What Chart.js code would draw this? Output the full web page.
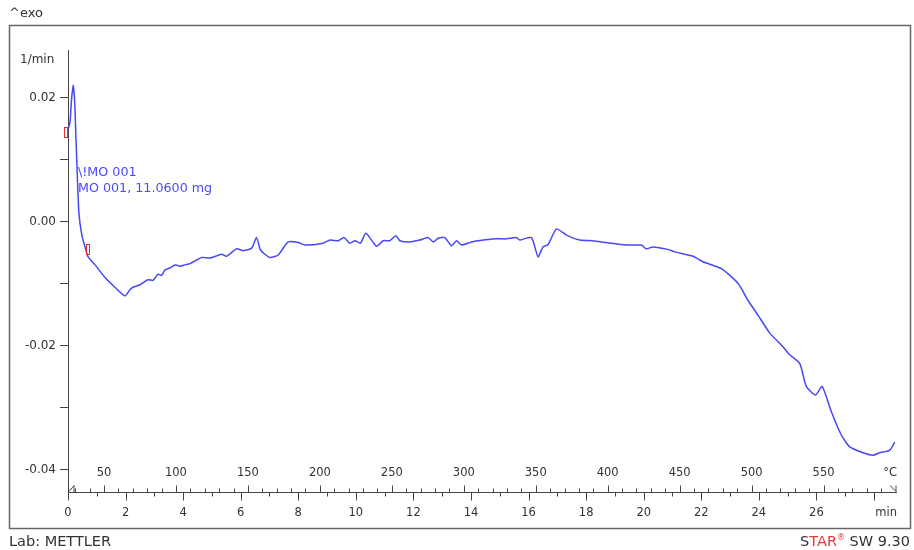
<!DOCTYPE html>
<html lang="en">
<head>
  <meta charset="UTF-8">
  <title>DSC curve MO 001</title>
  <script src="https://cdn.jsdelivr.net/npm/chart.js@4.4.0/dist/chart.umd.min.js"></script>
  <style>
    body { margin: 0; background: #fff; }
    canvas { display: block; }
  </style>
</head>
<body>
  <canvas id="myChart" width="914" height="550"></canvas>

  <script>
    // curve: time in min, signal in 1/min
    const timeMin = [0.00, 0.07, 0.12, 0.18, 0.23, 0.28, 0.33, 0.38, 0.47, 0.59, 0.70, 0.94, 1.28, 1.63, 1.98,
      2.15, 2.26, 2.50, 2.78, 2.95, 3.13, 3.25, 3.37, 3.54, 3.72, 3.90, 4.06, 4.24, 4.64, 4.93,
      5.34, 5.51, 5.86, 6.09, 6.38, 6.55, 6.69, 7.01, 7.30, 7.65, 8.00, 8.23, 8.86, 9.10, 9.39,
      9.59, 9.79, 9.97, 10.16, 10.35, 10.72, 10.95, 11.18, 11.39, 11.53, 11.88, 12.22, 12.51, 12.69, 12.86,
      13.09, 13.32, 13.50, 13.67, 14.02, 14.25, 14.88, 15.23, 15.58, 15.69, 16.10, 16.33, 16.50, 16.68, 16.97,
      17.32, 17.78, 18.24, 18.70, 19.40, 19.92, 20.09, 20.32, 20.84, 21.08, 21.71, 22.06, 22.70, 23.28, 23.62,
      23.97, 24.38, 24.84, 25.07, 25.42, 25.65, 25.97, 26.20, 26.52, 26.86, 27.15, 27.62, 27.97, 28.19, 28.54, 28.72]
    const rate = [0.0148, 0.0160, 0.0195, 0.0220, 0.0195, 0.0130, 0.0065, 0.0013, -0.0019, -0.0041, -0.0057, -0.0070, -0.0090, -0.0106, -0.0120,
      -0.0110, -0.0106, -0.0102, -0.0094, -0.0095, -0.0085, -0.0087, -0.0078, -0.0075, -0.0070, -0.0072, -0.0070, -0.0068, -0.0058, -0.0059,
      -0.0053, -0.0056, -0.0044, -0.0047, -0.0043, -0.0026, -0.0046, -0.0058, -0.0054, -0.0033, -0.0034, -0.0038, -0.0035, -0.0030, -0.0031,
      -0.0026, -0.0035, -0.0031, -0.0035, -0.0019, -0.0040, -0.0031, -0.0031, -0.0023, -0.0031, -0.0033, -0.0030, -0.0026, -0.0033, -0.0027,
      -0.0026, -0.0039, -0.0031, -0.0038, -0.0033, -0.0031, -0.0028, -0.0028, -0.0026, -0.0030, -0.0026, -0.0057, -0.0041, -0.0037, -0.0012,
      -0.0022, -0.0030, -0.0031, -0.0034, -0.0038, -0.0038, -0.0044, -0.0041, -0.0045, -0.0049, -0.0056, -0.0065, -0.0076, -0.0100, -0.0127,
      -0.0151, -0.0180, -0.0202, -0.0215, -0.0229, -0.0266, -0.0280, -0.0266, -0.0307, -0.0344, -0.0363, -0.0373, -0.0377, -0.0373, -0.0369, -0.0356]

    // y axis ticks (1/min)
    const yTicks = [-0.04, -0.03, -0.02, -0.01, 0, 0.01, 0.02]
    const yLabels = ['-0.04', '', '-0.02', '', '0.00', '', '0.02']

    // time axis (below the line)
    const minTicks = [0, 1, 2, 3, 4, 5, 6, 7, 8, 9, 10, 11, 12, 13, 14, 15, 16, 17, 18, 19, 20, 21, 22, 23, 24, 25, 26, 27, 28]
    const minLabels = [0, 2, 4, 6, 8, 10, 12, 14, 16, 18, 20, 22, 24, 26]

    // temperature axis (above the line), 25 °C start, 20 K/min
    const startTemp = 25
    const heatRate = 20
    const tempTicks = [30, 40, 50, 60, 70, 80, 90, 100, 110, 120, 130, 140, 150, 160, 170, 180, 190, 200,
      210, 220, 230, 240, 250, 260, 270, 280, 290, 300, 310, 320, 330, 340, 350, 360, 370, 380, 390, 400,
      410, 420, 430, 440, 450, 460, 470, 480, 490, 500, 510, 520, 530, 540, 550, 560, 570, 580, 590]
    const tempLabels = [50, 100, 150, 200, 250, 300, 350, 400, 450, 500, 550]

    // red evaluation limit marks
    const limitT = [-0.07, 0.705]
    const limitV = [0.0144, -0.0044]

    const FONT = '"DejaVu Sans", sans-serif'
    const TXT = '#333'
    const BLUE = '#4848f8'

    const points = timeMin.map((t, i) => ({ x: t, y: rate[i] }))

    const printout = {
      id: 'printout',
      afterDraw(chart) {
        const ctx = chart.ctx
        const sx = chart.scales.x
        const sy = chart.scales.y
        const area = chart.chartArea
        const y0 = Math.round(area.bottom) + 0.5
        ctx.save()

        // frame around the plot
        ctx.strokeStyle = '#666'
        ctx.lineWidth = 1.5
        ctx.strokeRect(9.5, 25.5, 901, 503)

        // time / temperature axis line
        ctx.strokeStyle = '#444'
        ctx.lineWidth = 1
        ctx.beginPath()
        ctx.moveTo(area.left, y0)
        ctx.lineTo(area.right, y0)

        minTicks.forEach(m => {
          const px = Math.round(sx.getPixelForValue(m)) + 0.5
          const len = m % 2 === 0 ? 8 : 4
          ctx.moveTo(px, y0)
          ctx.lineTo(px, y0 + len)
        })
        tempTicks.forEach(T => {
          const px = Math.round(sx.getPixelForValue((T - startTemp) / heatRate)) + 0.5
          const len = T % 50 === 0 ? 7 : 4
          ctx.moveTo(px, y0)
          ctx.lineTo(px, y0 - len)
        })
        // little start / end marks of the temperature axis
        ctx.moveTo(area.left + 1, y0 - 1)
        ctx.lineTo(area.left + 6, y0 - 7)
        ctx.lineTo(area.left + 6, y0)
        ctx.moveTo(area.right - 7, y0 - 7)
        ctx.lineTo(area.right - 1, y0 - 1)
        ctx.lineTo(area.right - 1, y0 - 7)
        ctx.stroke()

        ctx.fillStyle = TXT
        ctx.font = '11.5px ' + FONT
        ctx.textAlign = 'center'
        ctx.textBaseline = 'middle'
        minLabels.forEach(m => {
          ctx.fillText(String(m), sx.getPixelForValue(m), 513)
        })
        tempLabels.forEach(T => {
          ctx.fillText(String(T), sx.getPixelForValue((T - startTemp) / heatRate), 473)
        })
        ctx.textAlign = 'right'
        ctx.fillText('min', area.right, 513)
        ctx.fillText('°C', area.right, 473)

        // unit and exo direction
        ctx.textAlign = 'left'
        ctx.font = '12px ' + FONT
        ctx.fillText('1/min', 20, 60)
        ctx.font = '13px ' + FONT
        ctx.fillText('^exo', 9, 14)

        // sample annotation
        ctx.fillStyle = BLUE
        ctx.font = '12.7px ' + FONT
        ctx.fillText('\\!MO 001', 78, 173)
        ctx.fillText('MO 001, 11.0600 mg', 78, 189)

        // evaluation limits
        ctx.strokeStyle = '#e23030'
        ctx.lineWidth = 1
        limitT.forEach((t, i) => {
          const px = Math.round(sx.getPixelForValue(t))
          const py = Math.round(sy.getPixelForValue(limitV[i]))
          ctx.strokeRect(px - 2 + 0.5, py - 5 + 0.5, 3, 10)
        })

        // footer
        ctx.fillStyle = TXT
        ctx.font = '14.5px ' + FONT
        ctx.fillText('Lab: METTLER', 9, 542)

        const parts = [['S', TXT, 14.5, 0], ['TAR', '#e03a3a', 14.5, 0], ['®', '#e03a3a', 8, -4], [' SW 9.30', TXT, 14.5, 0]]
        let total = 0
        parts.forEach(p => { ctx.font = p[2] + 'px ' + FONT; total += ctx.measureText(p[0]).width })
        let cx = 910 - total
        parts.forEach(p => {
          ctx.font = p[2] + 'px ' + FONT
          ctx.fillStyle = p[1]
          ctx.fillText(p[0], cx, 542 + p[3])
          cx += ctx.measureText(p[0]).width
        })
        ctx.restore()
      }
    }

    const ctx = document.getElementById('myChart')
    const myChart = new Chart(ctx, {
      type: 'line',
      data: {
        datasets: [{
          label: 'MO 001',
          data: points,
          borderColor: BLUE,
          borderWidth: 1.5,
          pointRadius: 0,
          tension: 0.2,
          fill: false
        }]
      },
      options: {
        responsive: false,
        animation: false,
        layout: { padding: { left: 0, right: 17, top: 50, bottom: 58 } },
        plugins: { legend: { display: false }, tooltip: { enabled: false } },
        scales: {
          x: {
            type: 'linear',
            display: false,
            min: 0,
            max: 28.8
          },
          y: {
            type: 'linear',
            min: -0.04363,
            max: 0.02766,
            afterBuildTicks: (scale) => { scale.ticks = yTicks.map(v => ({ value: v })) },
            afterFit: (scale) => { scale.width = 68 },
            border: { display: true, color: '#444', width: 1 },
            grid: { drawOnChartArea: false, drawTicks: true, tickLength: 8, color: '#444' },
            ticks: {
              autoSkip: false,
              padding: 4,
              color: TXT,
              font: { family: 'DejaVu Sans', size: 12 },
              callback: (v, i) => yLabels[i]
            }
          }
        }
      },
      plugins: [printout]
    })
  </script>
</body>
</html>
